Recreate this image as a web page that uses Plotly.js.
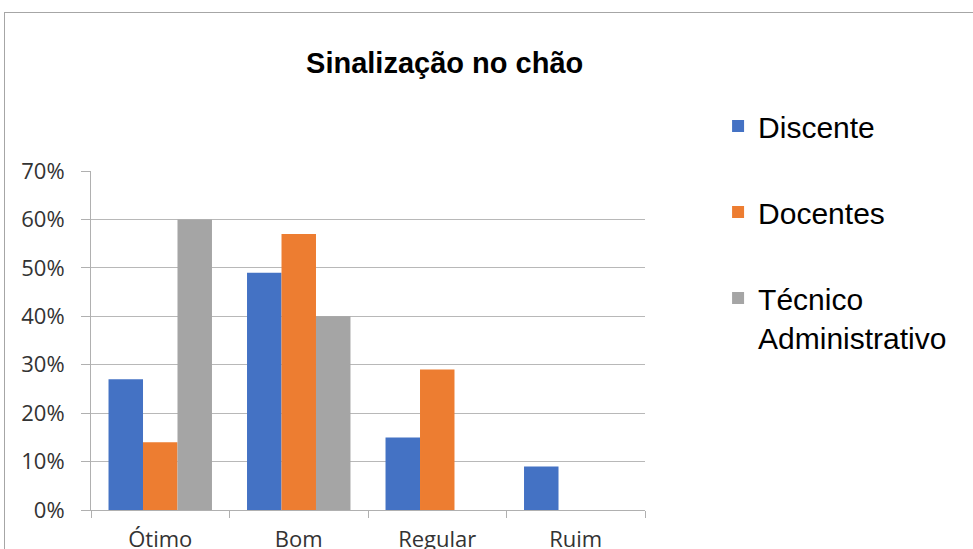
<!DOCTYPE html>
<html>
<head>
<meta charset="utf-8">
<script src="https://cdn.plot.ly/plotly-3.0.1.min.js"></script>
<style>
html,body{margin:0;padding:0;background:#fff;}
#wrap{position:relative;width:973px;height:549px;overflow:hidden;}
#chart{position:absolute;left:0;top:0;width:973px;height:549px;}
#frame{position:absolute;left:4px;top:12px;width:1000px;height:600px;border:1px solid #a6a6a6;pointer-events:none;}
</style>
</head>
<body>
<div id="wrap"><div id="chart"></div><div id="frame"></div></div>
<script>
const categories = ["Ótimo", "Bom", "Regular", "Ruim"];
const discente = [0.27, 0.49, 0.15, 0.09];
const docentes = [0.14, 0.57, 0.29, 0];
const tecnico = [0.60, 0.40, 0, 0];
const seriesNames = ["Discente", "Docentes", "Técnico<br>Administrativo"];
const colors = ["#4472C4", "#ED7D31", "#A5A5A5"];
const yTickVals = [0, 0.1, 0.2, 0.3, 0.4, 0.5, 0.6, 0.7];
const yTickText = ["0%", "10%", "20%", "30%", "40%", "50%", "60%", "70%"];

const seriesValues = [discente, docentes, tecnico];
const traces = seriesValues.map((vals, i) => ({
  type: "bar",
  name: seriesNames[i],
  x: categories,
  y: vals,
  marker: {color: colors[i]},
  legendgroup: "g" + i,
  hoverinfo: "x+y"
}));

const layout = {
  width: 973,
  height: 549,
  margin: {l: 91, r: 328, t: 171, b: 39},
  paper_bgcolor: "#ffffff",
  plot_bgcolor: "#ffffff",
  barmode: "group",
  bargap: 0.253,
  bargroupgap: 0,
  title: {
    text: "<b>Sinalização no chão</b>",
    font: {family: "Liberation Sans, Arial, sans-serif", size: 29, color: "#000000"},
    xref: "container", yref: "container",
    x: 0.457, y: 1 - 63/549, xanchor: "center", yanchor: "middle"
  },
  xaxis: {
    type: "category",
    tickson: "boundaries",
    ticks: "outside",
    ticklen: 7,
    tickcolor: "#b0b0b0",
    showline: true,
    linecolor: "#b0b0b0",
    linewidth: 1,
    showgrid: false,
    ticklabelstandoff: 10,
    tickfont: {family: "Open Sans, sans-serif", size: 22, color: "#333333"},
    fixedrange: true
  },
  yaxis: {
    range: [0, 0.7003],
    tickvals: yTickVals,
    ticktext: yTickText,
    ticks: "outside",
    ticklen: 9,
    tickcolor: "#b0b0b0",
    showgrid: true,
    gridcolor: "#b8b8b8",
    gridwidth: 1,
    zeroline: false,
    showline: true,
    linecolor: "#b0b0b0",
    linewidth: 1,
    ticklabelstandoff: 12,
    tickfont: {family: "Open Sans, sans-serif", size: 22, color: "#333333"},
    fixedrange: true
  },
  showlegend: true,
  legend: {
    xref: "container", yref: "container",
    x: 0.738, y: 1 - 100/549, xanchor: "left", yanchor: "top",
    font: {family: "Liberation Sans, Arial, sans-serif", size: 30, color: "#000000"},
    tracegroupgap: 44,
    valign: "top",
    bgcolor: "rgba(0,0,0,0)"
  }
};

Plotly.newPlot("chart", traces, layout, {displayModeBar: false, staticPlot: true});
</script>
</body>
</html>
